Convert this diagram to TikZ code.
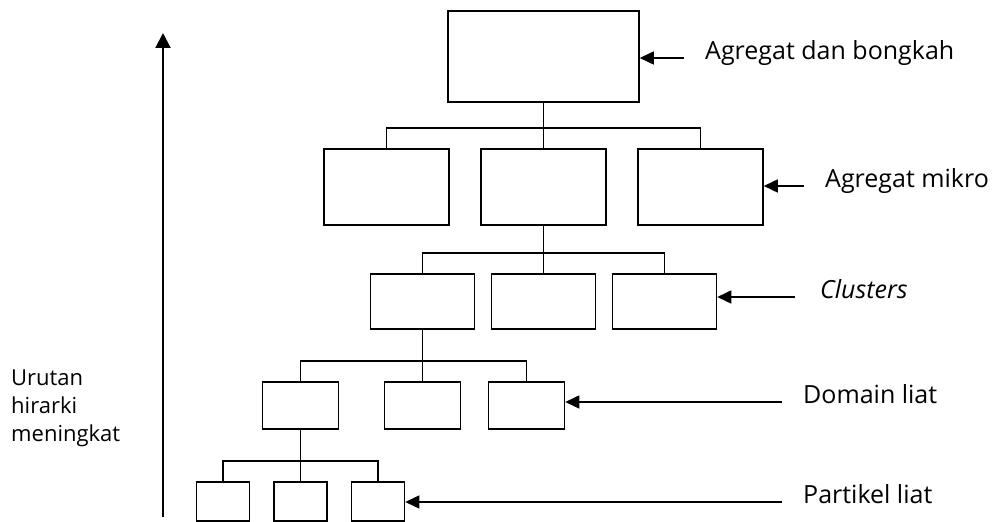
\documentclass[tikz,border=0pt]{standalone}
\usepackage{fontspec}
\setmainfont{Open Sans}
\usetikzlibrary{arrows.meta}

\tikzset{
    box/.style={draw, line width=1.5pt, inner sep=0pt},
    lbl/.style={anchor=west, inner ysep=0pt, inner xsep=21pt, font=\fontsize{25}{30}\selectfont, text height=0.75em, text depth=0.4em},
    pointer/.style={-{Triangle[length=14pt,width=13pt]}, line width=1.5pt},
}

\begin{document}
\begin{tikzpicture}
        [
            x=1pt, y=1pt,
            every child node/.style={box},
            edge from parent/.style={draw, line width=1.5pt},
            edge from parent path={(\tikzparentnode.south) |- ([yshift=20pt]\tikzchildnode.north) -- (\tikzchildnode.north)},
            level 1/.style={level distance=130.5pt, sibling distance=157pt, nodes={minimum width=125pt, minimum height=76pt}},
            level 2/.style={level distance=114.5pt, sibling distance=121pt, nodes={minimum width=104pt, minimum height=55pt}},
            level 3/.style={level distance=104pt, sibling distance=122pt, nodes={minimum width=76pt, minimum height=47pt}},
            level 4/.style={level distance=96pt, sibling distance=77.5pt, nodes={minimum width=53pt, minimum height=39pt}},
        ]
        \useasboundingbox (0,0) rectangle (999,522);
        \node[box, minimum width=191pt, minimum height=91pt] (agg) at (543.5,465.5) {}
        child {node (mik1) {}}
        child {
            node (mik2) {}
            child {
                node (cls1) {}
                child {
                    node (dom1) {}
                    child {node (par1) {}}
                    child {node (par2) {}}
                    child {node (par3) {}}
                }
                child {node (dom2) {}}
                child {node[xshift=-18pt] (dom3) {}}
            }
            child {node (cls2) {}}
            child {node (cls3) {}}
        }
        child {node (mik3) {}}
        ;

        \node[lbl] (aggtxt) at (684,464) {Agregat dan bongkah};
        \node[lbl] (miktxt) at (804,336) {Agregat mikro};
        \node[lbl, inner xsep=25pt] (clstxt) at (795,225) {\itshape Clusters};
        \node[lbl] (domtxt) at (782,120) {Domain liat};
        \node[lbl] (partxt) at (782,20) {Partikel liat};
        \draw[pointer] (aggtxt.west) -- (aggtxt.west -| agg.east);
        \draw[pointer] (miktxt.west) -- (miktxt.west -| mik3.east);
        \draw[pointer] (clstxt.west) -- (clstxt.west -| cls3.east);
        \draw[pointer] (domtxt.west) -- (domtxt.west -| dom3.east);
        \draw[pointer] (partxt.west) -- (partxt.west -| par3.east);

        \node[anchor=north west, align=left, inner sep=0pt, font=\fontsize{22}{28}\selectfont] (order) at (11,152) {Urutan\\hirarki\\meningkat};
        \coordinate (lo) at (163,5);
        \coordinate (hi) at (163,489);
        \draw[-{Triangle[length=15pt,width=15pt]}, line width=2pt] (lo) -- (hi);
    \end{tikzpicture}
\end{document}
